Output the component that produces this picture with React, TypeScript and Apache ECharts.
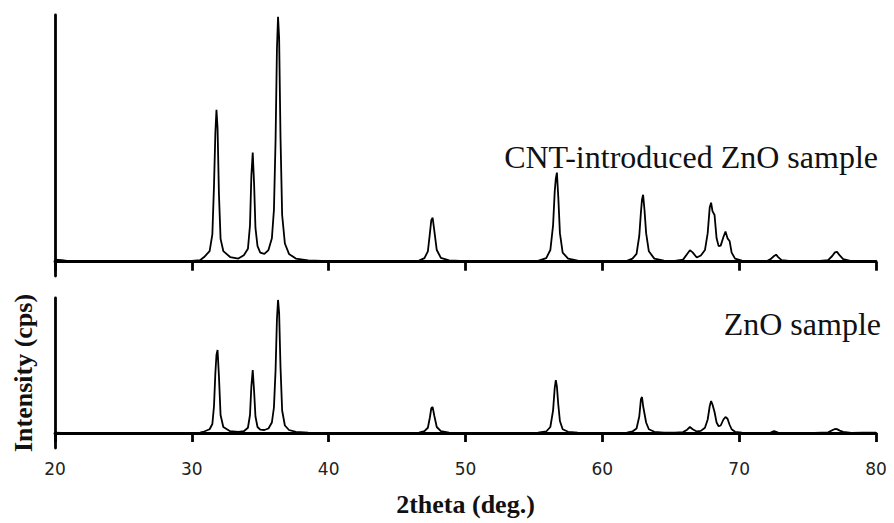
import React, { useEffect, useRef } from "react";
import * as echarts from "echarts";

// 2θ positions (deg.)
const twoTheta: number[] = [
  20, 20.5, 21, 22, 23, 24, 25, 26, 27, 28, 29, 30, 30.6,
  30.9, 31.3, 31.5, 31.62, 31.72, 31.8, 31.88, 31.98, 32.1, 32.3, 32.8, 33.4,
  33.8, 34.1, 34.25, 34.35, 34.45, 34.55, 34.65, 34.8, 35.0, 35.3,
  35.6, 35.85, 36.0, 36.12, 36.22, 36.3, 36.38, 36.48, 36.6, 36.8, 37.1, 37.6, 38.5,
  40, 42, 44, 45.5, 46.6,
  47.0, 47.25, 47.4, 47.5, 47.6, 47.72, 47.9, 48.2, 48.8,
  50, 52, 54, 55.3,
  55.9, 56.2, 56.4, 56.52, 56.6, 56.68, 56.78, 56.9, 57.1, 57.5, 58.2,
  59, 60.5, 61.8,
  62.2, 62.5, 62.7, 62.82, 62.9, 62.98, 63.08, 63.2, 63.4, 63.8, 64.5,
  65.3,
  65.9, 66.2, 66.4, 66.6, 66.9,
  67.2, 67.5, 67.7, 67.85, 67.95, 68.05, 68.2, 68.35, 68.5, 68.65, 68.85, 69.0, 69.15, 69.3, 69.45, 69.7, 70.2,
  71, 72,
  72.3, 72.55, 72.7, 72.85, 73.1,
  74, 75.5, 76.5,
  76.8, 77.0, 77.15, 77.35, 77.6,
  78.2, 79, 79.5, 80,
];

// CNT-introduced ZnO sample intensity (arb. cps above background)
const cntIntensity: number[] = [
  8, 6, 2, 1, 1, 0, 0, 0, 2, 2, 1, 3, 6,
  18, 41, 105, 293, 497, 585, 515, 263, 88, 41, 18, 12,
  25, 50, 140, 330, 420, 300, 130, 60, 35, 30,
  45, 90, 200, 470, 820, 943, 860, 480, 180, 70, 30, 12, 5,
  2, 0, 0, 1, 4,
  14, 40, 110, 160, 169, 120, 45, 15, 5,
  2, 0, 1, 3,
  14, 45, 140, 270, 320, 343, 250, 110, 35, 12, 4,
  1, 0, 3,
  12, 30, 100, 190, 240, 258, 200, 110, 40, 12, 4,
  3,
  8, 30, 44, 36, 16,
  24, 45, 110, 210, 227, 195, 180, 90, 60, 62, 95, 116, 90, 80, 35, 12, 4,
  3, 2,
  10, 22, 27, 18, 6,
  1, 1, 6,
  22, 36, 38, 24, 10,
  2, 0, 0, 1,
];

// ZnO sample intensity
const znoIntensity: number[] = [
  2, 1, 1, 0, 0, 0, 0, 0, 0, 0, 0, 1, 3,
  10, 25, 60, 180, 400, 520, 553, 380, 120, 40, 12, 8,
  12, 35, 120, 310, 420, 280, 110, 40, 22, 20,
  30, 70, 170, 420, 760, 887, 800, 440, 150, 50, 20, 8, 3,
  1, 0, 0, 0, 3,
  12, 35, 105, 165, 173, 115, 40, 12, 3,
  0, 0, 0, 2,
  10, 40, 150, 300, 353, 310, 190, 80, 25, 8, 2,
  0, 0, 2,
  10, 30, 110, 225, 240, 180, 130, 70, 25, 8, 2,
  2,
  6, 22, 40, 25, 10,
  14, 35, 90, 180, 213, 190, 140, 70, 45, 50, 90, 107, 95, 55, 25, 8, 2,
  1, 1,
  3, 13, 8, 3, 1,
  0, 0, 4,
  18, 27, 26, 16, 8,
  1, 2, 2, 2,
];

const xTicks = { min: 20, max: 80, interval: 10 };
const topLabel = "CNT-introduced ZnO sample";
const bottomLabel = "ZnO sample";

export default function App() {
  const ref = useRef<HTMLDivElement>(null);
  useEffect(() => {
    if (!ref.current) return;
    const chart = echarts.init(ref.current, null, { renderer: "svg" });
    const serif = "'Liberation Serif', 'Times New Roman', serif";
    const axisLine = { show: true, lineStyle: { color: "#000", width: 2.8 } };
    const xAxisBase = {
      type: "value" as const,
      min: xTicks.min,
      max: xTicks.max,
      interval: xTicks.interval,
      axisLine,
      axisTick: { show: true, inside: false, length: 9, lineStyle: { color: "#000", width: 2.8 } },
      splitLine: { show: false },
    };
    const yAxisBase = {
      type: "value" as const,
      axisLine,
      axisTick: { show: false },
      axisLabel: { show: false },
      splitLine: { show: false },
    };
    chart.setOption({
      animation: false,
      backgroundColor: "#fff",
      grid: [
        { left: 55, right: 18, top: 15, height: 261 },
        { left: 55, right: 18, top: 298, height: 150 },
      ],
      xAxis: [
        { ...xAxisBase, gridIndex: 0, axisLabel: { show: false } },
        {
          ...xAxisBase,
          gridIndex: 1,
          axisLabel: {
            show: true,
            margin: 12,
            color: "#222",
            fontFamily: "'DejaVu Sans', sans-serif",
            fontSize: 17,
          },
          name: "2theta (deg.)",
          nameLocation: "middle",
          nameGap: 43,
          nameTextStyle: { fontFamily: serif, fontWeight: "bold", fontSize: 26, color: "#111" },
        },
      ],
      yAxis: [
        { ...yAxisBase, gridIndex: 0, min: -55, max: 950 },
        {
          ...yAxisBase,
          gridIndex: 1,
          min: -100,
          max: 900,
          name: "Intensity (cps)",
          nameLocation: "middle",
          nameRotate: 90,
          nameGap: 19,
          nameTextStyle: { fontFamily: serif, fontWeight: "bold", fontSize: 26, color: "#111" },
        },
      ],
      series: [
        {
          type: "line",
          xAxisIndex: 0,
          yAxisIndex: 0,
          symbol: "none",
          lineStyle: { color: "#000", width: 1.8 },
          data: twoTheta.map((x, i) => [x, cntIntensity[i]]),
        },
        {
          type: "line",
          xAxisIndex: 1,
          yAxisIndex: 1,
          symbol: "none",
          lineStyle: { color: "#000", width: 1.8 },
          data: twoTheta.map((x, i) => [x, znoIntensity[i]]),
        },
      ],
      graphic: [
        {
          type: "text",
          right: 16,
          top: 141,
          style: { text: topLabel, font: `32px ${serif}`, fill: "#111" },
        },
        {
          type: "text",
          right: 13,
          top: 308,
          style: { text: bottomLabel, font: `32px ${serif}`, fill: "#111" },
        },
      ],
    });
    return () => chart.dispose();
  }, []);
  return (
    <div
      ref={ref}
      style={{ position: "fixed", left: 0, top: 0, width: 894, height: 523, background: "#fff" }}
    />
  );
}
